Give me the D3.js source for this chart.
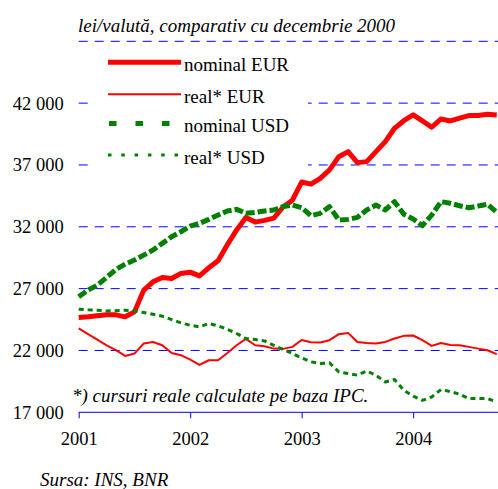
<!DOCTYPE html>
<html lang="ro">
<head>
<meta charset="UTF-8"/>
<title>Curs lei/valută</title>
<script src="https://cdn.jsdelivr.net/npm/d3@7"></script>
<style>
  body { margin: 0; background: #fff; }
  svg text { font-family: "Liberation Serif", "Times New Roman", Times, serif; fill: #000; }
</style>
</head>
<body>
<script>
// ---- data (monthly, Jan 2001 - Oct 2004) ----
var yearLabels = ["2001", "2002", "2003", "2004"];
var yTicks = [17000, 22000, 27000, 32000, 37000, 42000];
var gridValues = [22000, 27000, 32000, 37000, 42000, 47000];

var nominalEUR = [24670, 24720, 24800, 24880, 24880, 24720, 25120, 26880, 27550, 27900, 27820, 28230,
                  28330, 28030, 28680, 29250, 30550, 31750, 32750, 32380, 32520, 32700, 33600, 34150,
                  35620, 35450, 35920, 36600, 37670, 38080, 37190, 37270, 38080, 38890, 39970, 40580,
                  41050, 40560, 40050, 40720, 40560, 40780, 40990, 41000, 41100, 41050];
var realEUR = [23780, 23320, 22880, 22420, 22020, 21560, 21750, 22560, 22690, 22420, 21800, 21620,
               21260, 20830, 21210, 21210, 21800, 22420, 22940, 22420, 22340, 22150, 22130, 22290,
               22850, 22660, 22640, 22830, 23320, 23420, 22690, 22610, 22560, 22690, 22970, 23180,
               23210, 22830, 22370, 22610, 22450, 22420, 22290, 22150, 22020, 21700];
var nominalUSD = [26340, 26880, 27280, 27900, 28550, 28980, 29310, 29710, 30120, 30660, 31200, 31600,
                  32050, 32280, 32600, 32950, 33280, 33410, 33090, 33170, 33280, 33360, 33630, 33760,
                  33550, 32900, 33090, 33630, 32550, 32600, 32760, 33360, 33760, 33360, 34030, 33010,
                  32630, 32100, 32950, 34030, 33900, 33700, 33540, 33680, 33820, 33170];
var realUSD = [25340, 25290, 25260, 25200, 25220, 25260, 25200, 25070, 24930, 24770, 24500, 24230,
               24040, 23910, 24180, 23990, 23700, 23370, 22970, 22880, 22770, 22420, 22080, 21750,
               21400, 21080, 20940, 21000, 20270, 20130, 20000, 20340, 20000, 19450, 19650, 18780,
               18300, 17970, 18240, 18840, 18680, 18460, 18110, 18110, 18110, 17830];

var seriesNames = ["nominal EUR", "real* EUR", "nominal USD", "real* USD"];
var seriesValues = [nominalEUR, realEUR, nominalUSD, realUSD];

// ---- styles ----
var styles = [
  { color: "#ff0000", width: 5, dash: null, legendDash: null },
  { color: "#ff0000", width: 2, dash: null, legendDash: null },
  { color: "#008000", width: 5, dash: "9,3", legendDash: "7.5,19" },
  { color: "#008000", width: 3, dash: "5,4", legendDash: "3.5,9.8" }
];

var W = 498, H = 489;
var plotLeft = 78.7, plotRight = 498, plotTop = 41.3, plotBottom = 412.3;
var serif = "'Liberation Serif', 'Times New Roman', Times, serif";
var nMonths = nominalEUR.length;

var x = d3.scaleLinear().domain([0, nMonths - 1]).range([plotLeft, plotLeft + (nMonths - 1) * 9.29]);
var y = d3.scaleLinear().domain([17000, 47000]).range([plotBottom, plotTop]);

var fmt = d3.formatLocale({ decimal: ",", thousands: " ", grouping: [3], currency: ["", ""] }).format(",d");

var svg = d3.select("body").append("svg")
  .attr("width", W)
  .attr("height", H)
  .attr("font-family", serif);

// title
svg.append("text")
  .attr("x", 78)
  .attr("y", 32)
  .attr("font-size", "19px")
  .attr("font-style", "italic")
  .text("lei/valută, comparativ cu decembrie 2000");

// dashed gridlines
svg.append("g").selectAll("line")
  .data(gridValues)
  .enter()
  .append("line")
  .attr("x1", plotLeft)
  .attr("x2", plotRight)
  .attr("y1", function(d) { return y(d); })
  .attr("y2", function(d) { return y(d); })
  .attr("stroke", "#0000ff")
  .attr("stroke-width", 1)
  .attr("stroke-dasharray", "9,7");

// y labels
var yAxis = d3.axisLeft(y)
  .tickValues(yTicks)
  .tickSize(0)
  .tickPadding(15)
  .tickFormat(fmt);
var gy = svg.append("g")
  .attr("transform", "translate(" + plotLeft + ",0)")
  .call(yAxis)
  .attr("font-family", serif)
  .attr("font-size", 18.5);
gy.select(".domain").remove();
gy.selectAll("text").attr("fill", "#000");

// x axis
var xAxis = d3.axisBottom(x)
  .tickValues([0, 12, 24, 36])
  .tickSizeInner(6)
  .tickSizeOuter(0)
  .tickPadding(14)
  .tickFormat(function(d, i) { return yearLabels[i]; });
var gx = svg.append("g")
  .attr("transform", "translate(0," + plotBottom + ")")
  .call(xAxis)
  .attr("font-family", serif)
  .attr("font-size", 18.5);
gx.select(".domain").remove();
gx.append("line")
  .attr("x1", plotLeft)
  .attr("x2", plotRight)
  .attr("stroke", "#0000ff");
gx.selectAll(".tick line").attr("stroke", "#0000ff");
gx.selectAll("text").attr("fill", "#000");

// lines
var line = d3.line()
  .x(function(d, i) { return x(i); })
  .y(function(d) { return y(d); });

svg.append("g").selectAll("path")
  .data(seriesValues)
  .enter()
  .append("path")
  .attr("d", line)
  .attr("fill", "none")
  .attr("stroke", function(d, i) { return styles[i].color; })
  .attr("stroke-width", function(d, i) { return styles[i].width; })
  .attr("stroke-dasharray", function(d, i) { return styles[i].dash; })
  .attr("stroke-linejoin", "round");

// legend (white box hides grid)
var legend = svg.append("g");
legend.append("rect")
  .attr("x", 88)
  .attr("y", 48)
  .attr("width", 220)
  .attr("height", 126)
  .attr("fill", "#fff");

var legendY = [62.3, 94.3, 123.5, 155];
var items = legend.selectAll("g.item")
  .data(seriesNames)
  .enter()
  .append("g")
  .attr("class", "item")
  .attr("transform", function(d, i) { return "translate(0," + legendY[i] + ")"; });
items.append("line")
  .attr("x1", 108)
  .attr("x2", 181)
  .attr("stroke", function(d, i) { return styles[i].color; })
  .attr("stroke-width", function(d, i) { return styles[i].width; })
  .attr("stroke-dasharray", function(d, i) { return styles[i].legendDash; })
  .attr("stroke-dashoffset", function(d, i) { return i == 2 ? -1 : 0; });
items.append("text")
  .attr("x", 184)
  .attr("y", 8.5)
  .attr("font-size", "19px")
  .text(function(d) { return d; });

// footnote and source
svg.append("text")
  .attr("x", 72)
  .attr("y", 402)
  .attr("font-size", "19px")
  .attr("font-style", "italic")
  .text("*) cursuri reale calculate pe baza IPC.");

svg.append("text")
  .attr("x", 40)
  .attr("y", 486)
  .attr("font-size", "19px")
  .attr("font-style", "italic")
  .text("Sursa: INS, BNR");
</script>
</body>
</html>
